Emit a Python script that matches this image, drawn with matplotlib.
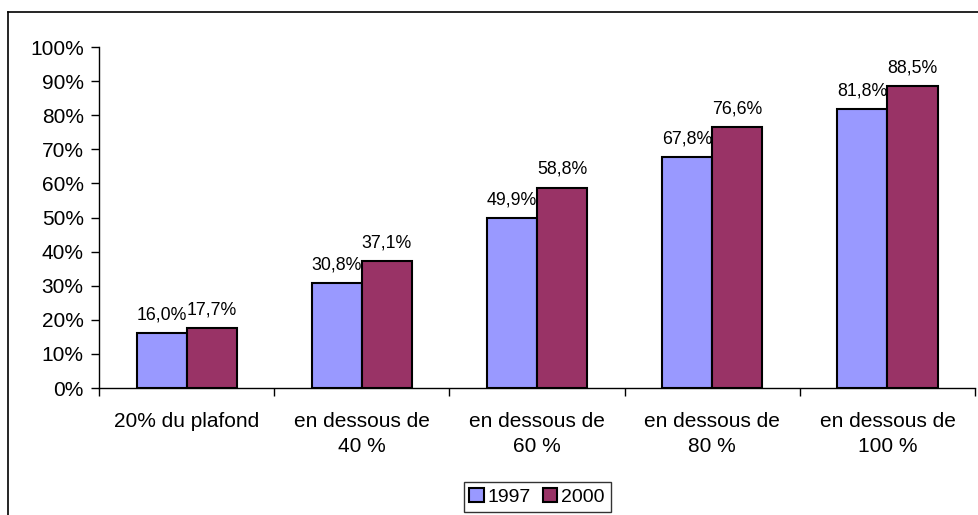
import matplotlib.pyplot as plt
import numpy as np
from matplotlib.lines import Line2D
from matplotlib.patches import Patch

plt.rcParams['font.family'] = ['Liberation Sans', 'DejaVu Sans']

categories = ["20% du plafond", "en dessous de\n40 %", "en dessous de\n60 %",
              "en dessous de\n80 %", "en dessous de\n100 %"]
values_1997 = [16.0, 30.8, 49.9, 67.8, 81.8]
values_2000 = [17.7, 37.1, 58.8, 76.6, 88.5]
series_names = ["1997", "2000"]
colors = ["#9999FF", "#993366"]

fig = plt.figure(figsize=(9.79, 5.15), dpi=100)
ax = fig.add_axes([0.1011, 0.2466, 0.8949, 0.6621])

x = np.arange(len(categories))
w = 1 / 3.5
for i, (vals, c) in enumerate(zip([values_1997, values_2000], colors)):
    pos = x + (i - 0.5) * w
    ax.bar(pos, vals, width=w, color=c, edgecolor="black", linewidth=1.5)
    for p, v in zip(pos, vals):
        ax.text(p, v + 2.8, f"{v:.1f}%".replace(".", ","), ha="center", va="bottom",
                fontsize=12.8)

ax.set_xlim(-0.5, len(categories) - 0.5)
ax.set_ylim(0, 100)
ax.set_yticks(np.arange(0, 101, 10))
ax.set_yticklabels([f"{t}%" for t in range(0, 101, 10)], fontsize=15)
ax.set_xticks(x)
ax.set_xticklabels(categories, fontsize=15, linespacing=1.45)
ax.set_xticks(np.arange(-0.5, len(categories)), minor=True)
ax.tick_params(axis="x", which="major", length=0, pad=17)
ax.tick_params(axis="x", which="minor", length=6, width=1)
ax.tick_params(axis="y", length=6, width=1, pad=5)
for s in ["top", "right"]:
    ax.spines[s].set_visible(False)
for s in ["left", "bottom"]:
    ax.spines[s].set_linewidth(1)

handles = [Patch(facecolor=c, edgecolor="black", linewidth=1.5) for c in colors]
leg = fig.legend(handles, series_names, loc="center", bbox_to_anchor=(0.5486, 0.035),
                 ncol=2, fontsize=14, frameon=True, fancybox=False,
                 handlelength=0.75, handleheight=0.75, handletextpad=0.2,
                 columnspacing=0.6, borderpad=0.3)
leg.get_frame().set_edgecolor("black")
leg.get_frame().set_linewidth(1)

# outer chart frame (right and bottom edges fall outside the image)
fig.add_artist(Line2D([8 / 979, 8 / 979], [0, 1 - 12 / 515], color="black", lw=1.2,
                      transform=fig.transFigure))
fig.add_artist(Line2D([8 / 979, 1], [1 - 12 / 515, 1 - 12 / 515], color="black", lw=1.2,
                      transform=fig.transFigure))

fig.savefig("out.png", dpi=100)
